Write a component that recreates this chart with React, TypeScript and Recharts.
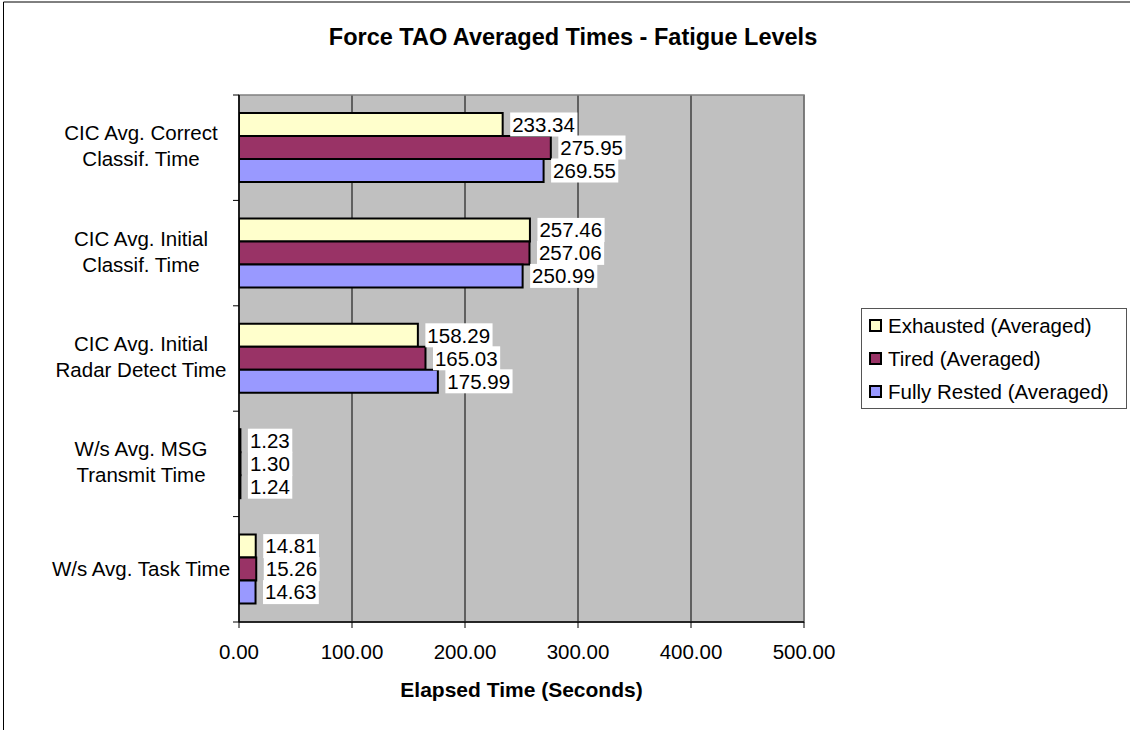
import React from 'react';
import {
  BarChart,
  Bar,
  XAxis,
  YAxis,
  CartesianGrid,
  Legend,
  LabelList,
  ReferenceArea,
} from 'recharts';

const categories = [
  'CIC Avg. Correct\nClassif. Time',
  'CIC Avg. Initial\nClassif. Time',
  'CIC Avg. Initial\nRadar Detect Time',
  'W/s Avg. MSG\nTransmit Time',
  'W/s Avg. Task Time',
];
const exhausted = [233.34, 257.46, 158.29, 1.23, 14.81];
const tired = [275.95, 257.06, 165.03, 1.3, 15.26];
const fullyRested = [269.55, 250.99, 175.99, 1.24, 14.63];
const xTicks = [0, 100, 200, 300, 400, 500];

const SERIES = [
  { key: 'exhausted', name: 'Exhausted (Averaged)', color: '#FFFFCC' },
  { key: 'tired', name: 'Tired (Averaged)', color: '#993366' },
  { key: 'fullyRested', name: 'Fully Rested (Averaged)', color: '#9999FF' },
];

const data = categories.map((name, i) => ({
  name,
  exhausted: exhausted[i],
  tired: tired[i],
  fullyRested: fullyRested[i],
}));

const FONT = '"Liberation Sans", Arial, sans-serif';
const FS = 20.5;
const W = 1130;
const H = 730;
const PLOT_LEFT = 239;
const PLOT_TOP = 95;
const PLOT_RIGHT = 804;
const PLOT_BOTTOM = 622;
const BAND = (PLOT_BOTTOM - PLOT_TOP) / categories.length;
const LABEL_CX = 141;

// rough Arial width for numbers like 233.34
const textWidth = (s: string) =>
  s.split('').reduce((w, c) => w + (c === '.' ? 0.278 : 0.556), 0) * FS;

const ValueLabel = (props: any) => {
  const { x, y, width, height, value } = props;
  const text = Number(value).toFixed(2);
  const tw = textWidth(text);
  const bx = x + width + 7.5;
  const cy = y + height / 2;
  return (
    <g>
      <rect x={bx} y={cy - 12} width={tw + 4.5} height={24} fill="#fff" />
      <text x={bx + 2} y={cy + 7.3} fontSize={FS} fontFamily={FONT} fill="#000">
        {text}
      </text>
    </g>
  );
};

const CategoryTick = (props: any) => {
  const { y, payload, index } = props;
  const lines = String(payload.value).split('\n');
  const top = y - BAND / 2;
  const first = lines.length === 1 ? y + 7 : y - 7.5;
  return (
    <g>
      <line x1={PLOT_LEFT - 6} x2={PLOT_LEFT} y1={top} y2={top} stroke="#000" strokeWidth={1} />
      {index === categories.length - 1 && (
        <line x1={PLOT_LEFT - 6} x2={PLOT_LEFT} y1={y + BAND / 2} y2={y + BAND / 2} stroke="#000" strokeWidth={1} />
      )}
      <text textAnchor="middle" fontSize={FS} fontFamily={FONT} fill="#000">
        {lines.map((l, i) => (
          <tspan key={i} x={LABEL_CX} y={first + i * 26}>
            {l}
          </tspan>
        ))}
      </text>
    </g>
  );
};

const renderLegend = () => (
  <div
    style={{
      boxSizing: 'border-box',
      width: 266,
      height: 101,
      border: '1px solid #555',
      background: '#fff',
      fontFamily: FONT,
      fontSize: FS,
      color: '#000',
    }}
  >
    {SERIES.map((s) => (
      <div key={s.key} style={{ height: 33, display: 'flex', alignItems: 'center', paddingLeft: 7 }}>
        <span
          style={{
            boxSizing: 'border-box',
            width: 13,
            height: 13,
            border: '2px solid #000',
            background: s.color,
            marginRight: 6,
          }}
        />
        <span style={{ whiteSpace: 'nowrap' }}>{s.name}</span>
      </div>
    ))}
  </div>
);

export default function App() {
  return (
    <div style={{ position: 'absolute', left: 0, top: 0, width: W, height: H, background: '#fff' }}>
      <BarChart
        width={W}
        height={H}
        data={data}
        layout="vertical"
        margin={{ top: PLOT_TOP, right: W - PLOT_RIGHT, bottom: 48, left: 10 }}
        barSize={23}
        barGap={0}
      >
        <CartesianGrid horizontal={false} vertical stroke="#000" strokeWidth={1} fill="#C0C0C0" fillOpacity={1} />
        <ReferenceArea x1={0} x2={500} fill="none" stroke="#808080" strokeWidth={1.5} />
        <XAxis
          type="number"
          domain={[0, 500]}
          ticks={xTicks}
          allowDataOverflow
          height={60}
          tickFormatter={(v: number) => v.toFixed(2)}
          tick={{ fill: '#000', fontSize: FS, fontFamily: FONT }}
          tickSize={6}
          tickMargin={16.5}
          tickLine={{ stroke: '#000' }}
          axisLine={{ stroke: '#000', strokeWidth: 1.5 }}
          label={{
            value: 'Elapsed Time (Seconds)',
            position: 'bottom',
            offset: 0,
            fill: '#000',
            fontSize: 21,
            fontWeight: 'bold',
            fontFamily: FONT,
          }}
        />
        <YAxis
          type="category"
          dataKey="name"
          width={229}
          tickLine={false}
          tick={<CategoryTick />}
          axisLine={{ stroke: '#000', strokeWidth: 1.5 }}
          interval={0}
        />
        <Legend
          content={renderLegend}
          layout="horizontal"
          align="center"
          verticalAlign="middle"
          wrapperStyle={{ position: 'absolute', left: 861, top: 308, width: 266, height: 101, margin: 0 }}
        />
        {SERIES.map((s) => (
          <Bar
            key={s.key}
            dataKey={s.key}
            name={s.name}
            fill={s.color}
            stroke="#000"
            strokeWidth={2}
            isAnimationActive={false}
          >
            <LabelList dataKey={s.key} content={<ValueLabel />} />
          </Bar>
        ))}
      </BarChart>
      <svg
        width={W}
        height={H}
        style={{ position: 'absolute', left: 0, top: 0, pointerEvents: 'none' }}
      >
        <line x1={3.5} x2={W} y1={2} y2={2} stroke="#000" strokeWidth={1} />
        <line x1={3.5} x2={3.5} y1={2} y2={H} stroke="#000" strokeWidth={1} />
        <text x={573} y={45} textAnchor="middle" fontSize={23.5} fontWeight="bold" fontFamily={FONT} fill="#000">
          Force TAO Averaged Times - Fatigue Levels
        </text>
      </svg>
    </div>
  );
}
